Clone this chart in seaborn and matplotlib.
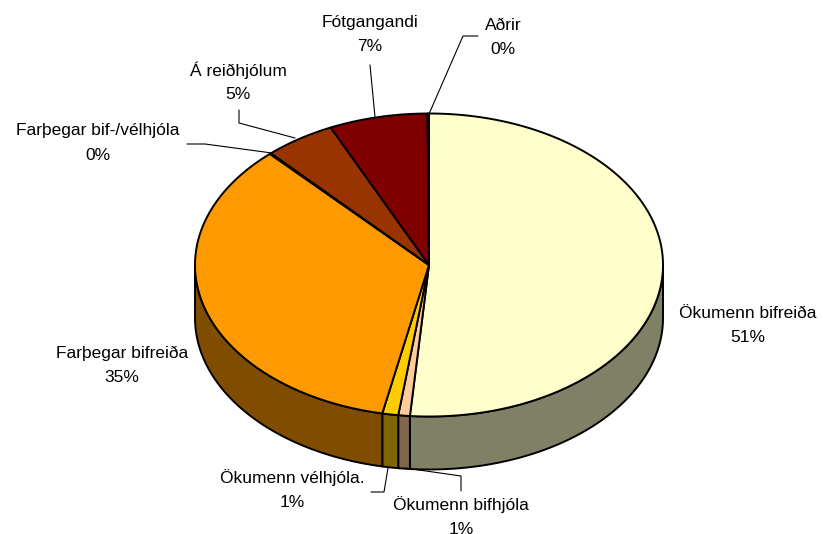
import numpy as np
import matplotlib
matplotlib.use("Agg")
import matplotlib.pyplot as plt
from matplotlib.patches import Polygon
import seaborn as sns

# slices, clockwise from 12 o'clock
categories = ["Ökumenn bifreiða", "Ökumenn bifhjóla", "Ökumenn vélhjóla.",
              "Farþegar bifreiða", "Farþegar bif-/vélhjóla", "Á reiðhjólum",
              "Fótgangandi", "Aðrir"]
values = [51.3, 0.8, 1.1, 34.9, 0.1, 4.9, 6.8, 0.1]

colors = ["#FFFFCC", "#FFCC99", "#FFCC00", "#FF9900",
          "#CC6600", "#993300", "#800000", "#666699"]

# label placement (pixels): text centre, leader line points
label_pos = {
    "Ökumenn bifreiða": ((748, 313), None),
    "Ökumenn bifhjóla": ((461, 505), [(405, 468), (461, 476), (461, 491)]),
    "Ökumenn vélhjóla.": ((292, 478), [(388, 468), (384, 492), (371, 492)]),
    "Farþegar bifreiða": ((122, 353), None),
    "Farþegar bif-/vélhjóla": ((98, 131), [(272, 153), (205, 144), (187, 144)]),
    "Á reiðhjólum": ((238, 70), [(295, 138), (239, 123), (239, 110)]),
    "Fótgangandi": ((370, 22), [(375, 117), (370, 65)]),
    "Aðrir": ((503, 25), [(429, 114), (463, 36), (478, 36)]),
}

sns.set_theme(style="white")
plt.rcParams["font.family"] = ["Liberation Sans", "DejaVu Sans"]

cx, cy, a, b, depth = 429, 265, 234, 151.5, 53
edge_lw = 1.4


def pt(t, dy=0.0):
    r = np.deg2rad(t)
    return cx + a * np.sin(r), cy - b * np.cos(r) + dy


fig = plt.figure(figsize=(8.23, 5.34), dpi=100)
ax = fig.add_axes([0, 0, 1, 1])
ax.set_xlim(0, 823)
ax.set_ylim(534, 0)
ax.axis("off")

vals = np.array(values)
frac = vals / vals.sum()
ends = np.cumsum(frac) * 360
starts = ends - frac * 360
pal = sns.color_palette(colors)

# side walls (front half only)
for s, e, c in zip(starts, ends, pal):
    lo, hi = max(s, 90), min(e, 270)
    if hi <= lo:
        continue
    ts = np.linspace(lo, hi, 80)
    top = [pt(t) for t in ts]
    bot = [pt(t, depth) for t in ts[::-1]]
    dark = tuple(ch * 0.5 for ch in c)
    ax.add_patch(Polygon(top + bot, closed=True, facecolor=dark,
                         edgecolor="black", lw=edge_lw, joinstyle="round"))

# top faces
for s, e, c in zip(starts, ends, pal):
    ts = np.linspace(s, e, max(int((e - s) * 2), 2))
    poly = [(cx, cy)] + [pt(t) for t in ts]
    ax.add_patch(Polygon(poly, closed=True, facecolor=c,
                         edgecolor="black", lw=edge_lw, joinstyle="round"))

# labels
pcts = np.round(frac * 100).astype(int)
for name, p in zip(categories, pcts):
    (tx, ty), leader = label_pos[name]
    ax.text(tx, ty, name, ha="center", va="center", fontsize=12.5, color="black")
    ax.text(tx, ty + 24.5, f"{p}%", ha="center", va="center", fontsize=12.5, color="black")
    if leader:
        xs, ys = zip(*leader)
        ax.plot(xs, ys, color="black", lw=0.8)

fig.savefig("out.png", dpi=100)
